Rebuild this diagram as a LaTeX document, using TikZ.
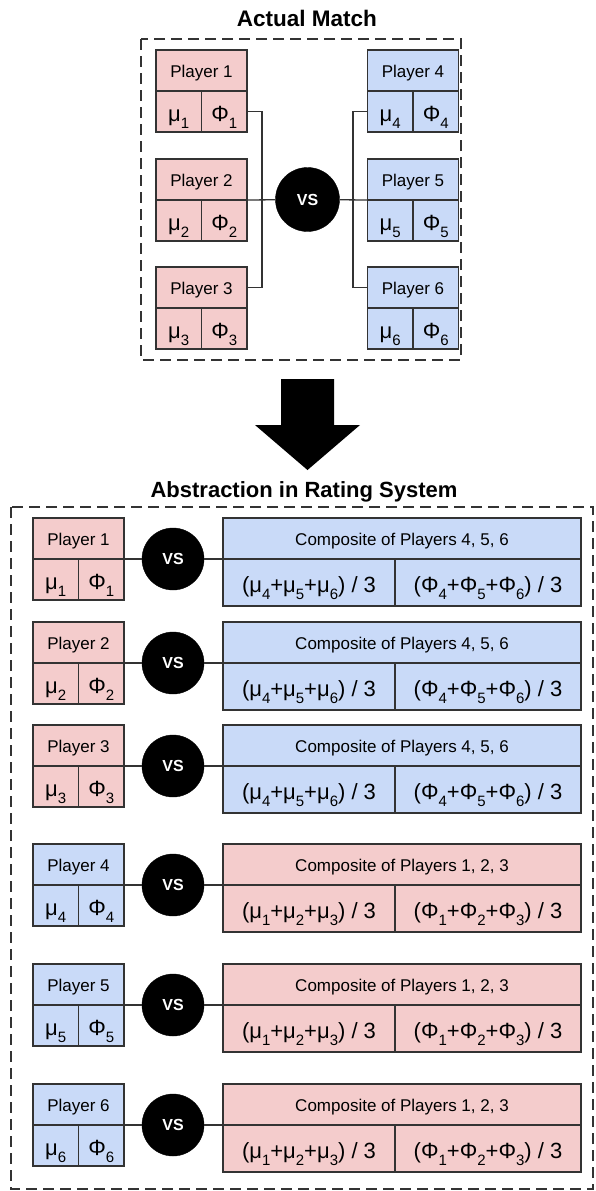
\documentclass[tikz,border=0pt]{standalone}
\usepackage{fontspec}
\setmainfont{Liberation Sans}
\definecolor{pinkf}{HTML}{F4CCCC}
\definecolor{bluef}{HTML}{C9DAF8}
\definecolor{linec}{HTML}{333333}
\newcommand\sbs[1]{\raisebox{-6.5pt}{\fontsize{15pt}{15pt}\selectfont #1}}
\newcommand\lblfont{\fontsize{17pt}{17pt}\selectfont}
\newcommand\mfont{\fontsize{22pt}{22pt}\selectfont}
\newcommand\ttlfont{\fontsize{22.5pt}{22.5pt}\selectfont\bfseries}
\tikzset{
  cell/.style={draw=linec, line width=1.3pt, inner sep=0pt, outer sep=0pt, anchor=north west},
  hcell/.style={cell, minimum height=41pt, text height=13.2pt, text depth=0pt, font=\lblfont},
  vcell/.style={cell, text height=20.8pt, text depth=0pt, font=\mfont},
  vsnode/.style={circle, fill=black, draw=black, minimum size=62pt, inner sep=0pt, outer sep=0pt,
    text=white, text height=11.5pt, text depth=0pt, font=\bfseries\fontsize{16pt}{16pt}\selectfont},
  conn/.style={draw=linec, line width=1.3pt},
  dashbox/.style={draw=linec, line width=1.3pt, dash pattern=on 11pt off 6pt},
  ttl/.style={anchor=base, font=\ttlfont, inner sep=0pt}
}
\newcommand\playercard[5]{%
  \node[hcell, fill=#4, minimum width=91pt] (#1h) at (#2,#3) {Player #5};
  \node[vcell, fill=#4, minimum width=45.5pt, minimum height=41pt] (#1m) at (#2,#3+41) {μ\sbs{#5}};
  \node[vcell, fill=#4, minimum width=45.5pt, minimum height=41pt] (#1p) at (#2+45.5,#3+41) {Φ\sbs{#5}};
}
\newcommand\compcard[6]{%
  \node[hcell, fill=#3, minimum width=358pt] (#1h) at (223,#2) {Composite of Players #4, #5, #6};
  \node[vcell, fill=#3, minimum width=172pt, minimum height=47pt] (#1l) at (223,#2+41) {(μ\sbs{#4}+μ\sbs{#5}+μ\sbs{#6}) / 3};
  \node[vcell, fill=#3, minimum width=186pt, minimum height=47pt] (#1r) at (395,#2+41) {(Φ\sbs{#4}+Φ\sbs{#5}+Φ\sbs{#6}) / 3};
}
\begin{document}
\begin{tikzpicture}[x=1pt, y=-1pt]
\useasboundingbox (0,0) rectangle (595,1191);
% ---------- Actual match ----------
\node[ttl] (t1) at (307,27) {Actual Match};
\draw[dashbox] (141,39) rectangle (461,360);
\playercard{p1}{156}{50}{pinkf}{1}
\playercard{p2}{156}{159}{pinkf}{2}
\playercard{p3}{156}{267}{pinkf}{3}
\playercard{p4}{367.5}{50}{bluef}{4}
\playercard{p5}{367.5}{159}{bluef}{5}
\playercard{p6}{367.5}{267}{bluef}{6}
\node[vsnode, minimum size=64pt] (v0) at (307.5,199.5) {VS};
\draw[conn] (p1p.east) -- ++(15,0) |- (p3h.east);
\draw[conn] (p2h.south east) -- (v0);
\draw[conn] (v0) -- (p5h.south west);
\draw[conn] (p4m.west) -- ++(-14.5,0) |- (p6h.west);
% ---------- Arrow ----------
\fill[black] (281,379) -- (334,379) -- (334,425) -- (360,425) -- (307.5,470) -- (255,425) -- (281,425) -- cycle;
% ---------- Abstraction ----------
\node[ttl, font=\bfseries\fontsize{22pt}{22pt}\selectfont] (t2) at (304,497) {Abstraction in Rating System};
\draw[dashbox] (11,507) rectangle (593,1189);
\playercard{a1}{33}{518}{pinkf}{1}
\playercard{a2}{33}{622}{pinkf}{2}
\playercard{a3}{33}{725}{pinkf}{3}
\playercard{a4}{33}{844}{bluef}{4}
\playercard{a5}{33}{964}{bluef}{5}
\playercard{a6}{33}{1084}{bluef}{6}
\compcard{c1}{518}{bluef}{4}{5}{6}
\compcard{c2}{622}{bluef}{4}{5}{6}
\compcard{c3}{725}{bluef}{4}{5}{6}
\compcard{c4}{844}{pinkf}{1}{2}{3}
\compcard{c5}{964}{pinkf}{1}{2}{3}
\compcard{c6}{1084}{pinkf}{1}{2}{3}
\node[vsnode] (v1) at (173,559) {VS};
\node[vsnode] (v2) at (173,663) {VS};
\node[vsnode] (v3) at (173,766) {VS};
\node[vsnode] (v4) at (173,885) {VS};
\node[vsnode] (v5) at (173,1005) {VS};
\node[vsnode] (v6) at (173,1125) {VS};
\foreach \i in {1,...,6}{
  \draw[conn] (a\i h.south east) -- (v\i);
  \draw[conn] (v\i) -- (c\i h.south west);
}
\end{tikzpicture}
\end{document}
